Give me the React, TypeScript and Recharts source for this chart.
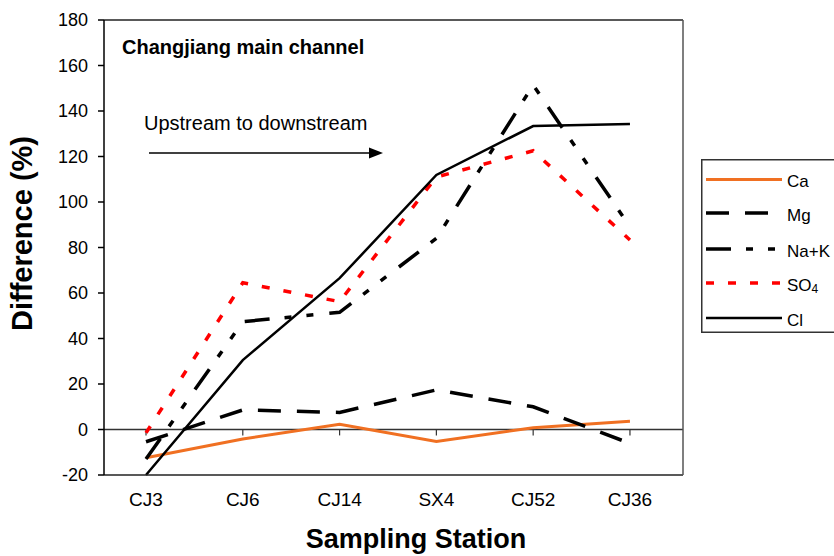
import React from 'react';
import { LineChart, Line, XAxis, YAxis, ReferenceLine, Legend, Label } from 'recharts';

const stations = ['CJ3', 'CJ6', 'CJ14', 'SX4', 'CJ52', 'CJ36'];
const caValues = [-12.4, -4.2, 2.3, -5.3, 0.8, 3.6];
const mgValues = [-5.4, 8.6, 7.5, 17.4, 10.0, -6.1];
const nakValues = [-13, 47.4, 51.5, 84, 151.4, 89.1];
const so4Values = [-1.5, 64.5, 56.2, 111, 122.5, 83.3];
const clValues = [-20, 30.5, 66.5, 111.9, 133.4, 134.3];
const yTicks = [-20, 0, 20, 40, 60, 80, 100, 120, 140, 160, 180];
const xTicks = stations.map((_, i) => i);

const data = stations.map((s, i) => ({
  idx: i,
  station: s,
  Ca: caValues[i],
  Mg: mgValues[i],
  NaK: nakValues[i],
  SO4: so4Values[i],
  Cl: clValues[i],
}));

const FONT = '"Liberation Sans", Arial, Helvetica, sans-serif';

const series = [
  { key: 'Ca', name: 'Ca', color: '#F07022', width: 3, dash: undefined as string | undefined },
  { key: 'Mg', name: 'Mg', color: '#000000', width: 3.5, dash: '23 16' },
  { key: 'NaK', name: 'Na+K', color: '#000000', width: 3.5, dash: '25 15 7 15 7 16' },
  { key: 'SO4', name: 'SO4', color: '#FF0000', width: 3.5, dash: '8 14' },
  { key: 'Cl', name: 'Cl', color: '#000000', width: 2.5, dash: undefined as string | undefined },
];

const XTick = (props: any) => {
  const { x, y, payload } = props;
  return (
    <text x={x} y={y} dy="0.71em" textAnchor="middle" fontSize={19} fill="#000" fontFamily={FONT}>
      {stations[payload.value]}
    </text>
  );
};

const renderLegend = () => {
  const rows = [20.5, 54, 90, 124, 159];
  return (
    <svg width={133} height={174} style={{ display: 'block', fontFamily: FONT }}>
      <path d="M134 0.75 H0.75 V173.25 H134" fill="none" stroke="#333" strokeWidth={1.5} />
      {series.map((s, i) => (
        <g key={s.key}>
          <line x1={5} x2={81} y1={rows[i]} y2={rows[i]} stroke={s.color} strokeWidth={s.width} strokeDasharray={s.dash} />
          <text x={86} y={rows[i] + 2} dominantBaseline="central" fontSize={17} fill="#000">
            {s.key === 'SO4' ? (
              <>
                SO<tspan fontSize={12} dy={4}>4</tspan>
              </>
            ) : (
              s.name
            )}
          </text>
        </g>
      ))}
    </svg>
  );
};

export default function App() {
  return (
    <div style={{ position: 'absolute', left: 0, top: 0, width: 834, height: 556, background: '#fff' }}>
      <LineChart
        width={834}
        height={556}
        data={data}
        margin={{ top: 19, right: 150, bottom: 0, left: 0 }}
        style={{ fontFamily: FONT }}
      >
        <XAxis
          dataKey="idx"
          type="number"
          domain={[-0.434, 5.548]}
          ticks={xTicks}
          interval={0}
          height={81}
          tickSize={0}
          tickMargin={18}
          tickLine={false}
          stroke="#222"
          strokeWidth={1.5}
          axisLine={true}
          tick={<XTick />}
        >
          <Label
            content={() => (
              <text x={416} y={548} textAnchor="middle" fontSize={27} fontWeight="bold" fill="#000" fontFamily={FONT}>
                Sampling Station
              </text>
            )}
          />
        </XAxis>
        <XAxis
          xAxisId="top"
          dataKey="idx"
          type="number"
          orientation="top"
          domain={[-0.434, 5.548]}
          ticks={xTicks}
          height={1}
          tick={false}
          tickLine={false}
          stroke="#222"
          strokeWidth={1.5}
          axisLine={true}
        />
        <YAxis
          type="number"
          domain={[-20, 180]}
          ticks={yTicks}
          interval={0}
          width={104}
          tickSize={6}
          tickMargin={10}
          stroke="#000"
          strokeWidth={1.5}
          axisLine={true}
          tickLine={true}
          tick={{ fontSize: 18, fill: '#000', fontFamily: FONT, stroke: 'none' }}
        >
          <Label
            content={() => (
              <text
                x={32}
                y={233.5}
                transform="rotate(-90, 32, 233.5)"
                textAnchor="middle"
                fontSize={29}
                fontWeight="bold"
                fill="#000"
                fontFamily={FONT}
              >
                Difference (%)
              </text>
            )}
          />
        </YAxis>
        <YAxis
          yAxisId="right"
          orientation="right"
          type="number"
          domain={[-20, 180]}
          ticks={yTicks}
          width={1}
          tick={false}
          tickLine={false}
          stroke="#555"
          strokeWidth={1.5}
          axisLine={true}
        />
        <ReferenceLine y={0} stroke="#333" strokeWidth={1.5} />
        {xTicks.map((i) => (
          <ReferenceLine
            key={'t' + i}
            segment={[
              { x: i, y: 0 },
              { x: i, y: -2.6 },
            ]}
            stroke="#333"
            strokeWidth={1.2}
          />
        ))}
        <Legend
          layout="horizontal"
          verticalAlign="middle"
          align="center"
          content={renderLegend}
          wrapperStyle={{ left: 701, top: 159, width: 133, height: 174, margin: 0, padding: 0, lineHeight: 0 }}
        />
        {series.map((s) => (
          <Line
            key={s.key}
            type="linear"
            dataKey={s.key}
            name={s.name}
            stroke={s.color}
            strokeWidth={s.width}
            strokeDasharray={s.dash}
            dot={false}
            activeDot={false}
            isAnimationActive={false}
          />
        ))}
        <text x={122} y={54} fontSize={20} fontWeight="bold" fill="#000" fontFamily={FONT}>
          Changjiang main channel
        </text>
        <text x={144} y={130} fontSize={20} fill="#000" fontFamily={FONT}>
          Upstream to downstream
        </text>
        <line x1={149} y1={153} x2={372} y2={153} stroke="#000" strokeWidth={1.5} />
        <polygon points="383,153 369,147.5 369,158.5" fill="#000" />
      </LineChart>
    </div>
  );
}
